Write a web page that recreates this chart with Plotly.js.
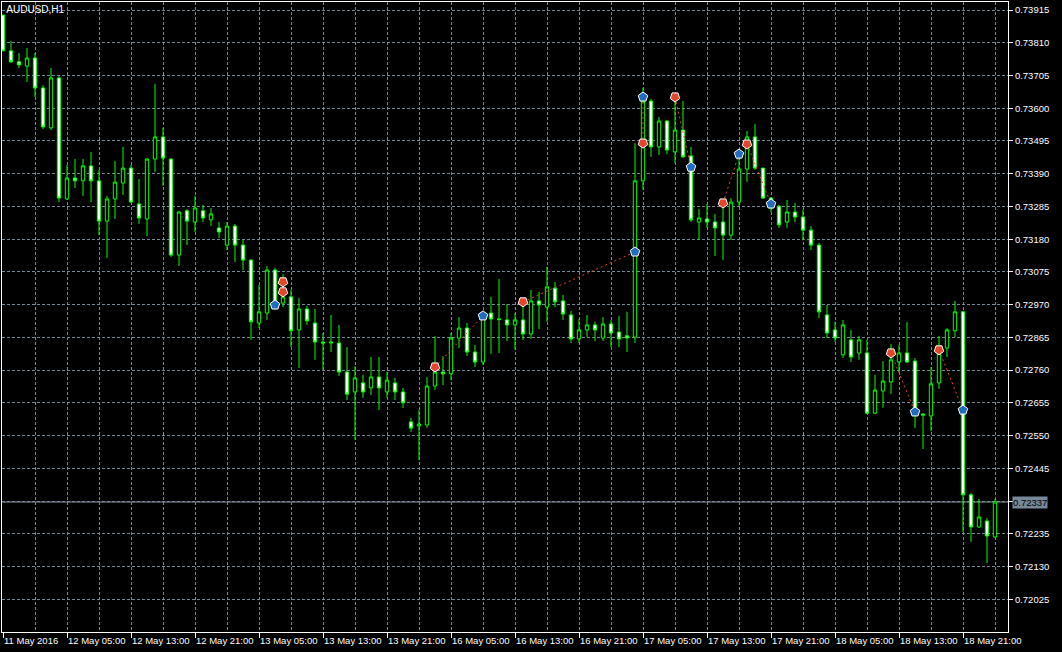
<!DOCTYPE html>
<html>
<head>
<meta charset="utf-8">
<script src="https://cdn.plot.ly/plotly-3.0.1.min.js"></script>
<style>html,body{margin:0;padding:0;background:#000;}#chart{width:1062px;height:652px;}</style>
</head>
<body>
<div id="chart"></div>
<script>
// AUDUSD H1 candles (bar 0 = 11 May 2016 21:00)
const openP = [0.73899,0.73784,0.73749,0.73735,0.73761,0.73665,0.73537,0.73697,0.73309,0.73376,
0.73367,0.73415,0.73367,0.73238,0.73309,0.73360,0.73408,0.73293,0.73245,0.73437,
0.73508,0.73437,0.73129,0.73271,0.73235,0.73271,0.73242,0.73216,0.73161,0.73222,
0.73161,0.73113,0.72911,0.72943,0.73081,0.72975,0.72995,0.72889,0.72956,0.72911,
0.72850,0.72847,0.72847,0.72754,0.72690,0.72719,0.72703,0.72738,0.72690,0.72719,
0.72690,0.72594,0.72581,0.72584,0.72709,0.72754,0.72748,0.72863,0.72895,0.72818,
0.72786,0.72943,0.72924,0.72921,0.72905,0.72921,0.72876,0.72982,0.72962,0.73023,
0.72982,0.72937,0.72860,0.72889,0.72905,0.72863,0.72908,0.72882,0.72870,0.72866,
0.73367,0.73623,0.73476,0.73559,0.73460,0.73530,0.73447,0.73235,0.73245,0.73235,
0.73235,0.73193,0.73299,0.73405,0.73508,0.73408,0.73312,0.73286,0.73235,0.73267,
0.73251,0.73209,0.73161,0.72937,0.72889,0.72809,0.72857,0.72815,0.72815,0.72622,
0.72693,0.72722,0.72786,0.72815,0.72789,0.72619,0.72613,0.72719,0.72831,0.72886,
0.72947,0.72360,0.72257,0.72276,0.72225];
const highP = [0.73899,0.73816,0.73777,0.73793,0.73777,0.73674,0.73729,0.73703,0.73418,0.73437,
0.73437,0.73460,0.73402,0.73319,0.73431,0.73476,0.73418,0.73373,0.73440,0.73678,
0.73537,0.73440,0.73271,0.73277,0.73319,0.73290,0.73280,0.73235,0.73235,0.73229,
0.73177,0.73116,0.73033,0.73094,0.73088,0.73068,0.73017,0.72992,0.72966,0.72956,
0.72879,0.72937,0.72905,0.72834,0.72773,0.72745,0.72802,0.72802,0.72754,0.72735,
0.72703,0.72607,0.72632,0.72738,0.72869,0.72805,0.72879,0.72930,0.72911,0.72841,
0.72934,0.72995,0.73052,0.72972,0.72943,0.72975,0.73017,0.73011,0.73091,0.73043,
0.73001,0.72950,0.72924,0.72937,0.72915,0.72930,0.72921,0.72934,0.72947,0.73488,
0.73665,0.73630,0.73572,0.73562,0.73636,0.73623,0.73476,0.73277,0.73293,0.73261,
0.73283,0.73312,0.73466,0.73527,0.73549,0.73408,0.73315,0.73290,0.73306,0.73296,
0.73274,0.73222,0.73168,0.72969,0.72915,0.72921,0.72889,0.72870,0.72857,0.72745,
0.72789,0.72844,0.72841,0.72915,0.72799,0.72622,0.72770,0.72870,0.72895,0.72982,
0.72950,0.72366,0.72347,0.72286,0.72347];
const lowP = [0.73784,0.73745,0.73729,0.73684,0.73636,0.73533,0.73530,0.73299,0.73306,0.73344,
0.73319,0.73299,0.73193,0.73120,0.73245,0.73322,0.73296,0.73229,0.73190,0.73395,
0.73351,0.73123,0.73094,0.73161,0.73203,0.73235,0.73222,0.73184,0.73145,0.73107,
0.73081,0.72857,0.72895,0.72921,0.72953,0.72962,0.72834,0.72767,0.72905,0.72793,
0.72761,0.72818,0.72741,0.72664,0.72536,0.72671,0.72680,0.72632,0.72671,0.72664,
0.72639,0.72562,0.72472,0.72574,0.72696,0.72712,0.72728,0.72831,0.72805,0.72770,
0.72777,0.72812,0.72815,0.72853,0.72825,0.72857,0.72860,0.72892,0.72915,0.72962,
0.72921,0.72847,0.72847,0.72866,0.72853,0.72853,0.72834,0.72834,0.72818,0.72847,
0.73338,0.73444,0.73450,0.73453,0.73424,0.73440,0.73235,0.73177,0.73216,0.73126,
0.73113,0.73177,0.73286,0.73363,0.73402,0.73309,0.73267,0.73216,0.73216,0.73235,
0.73177,0.73145,0.72927,0.72863,0.72850,0.72799,0.72786,0.72793,0.72619,0.72619,
0.72639,0.72683,0.72754,0.72783,0.72574,0.72507,0.72565,0.72700,0.72802,0.72866,
0.72241,0.72209,0.72254,0.72141,0.72222];
const closeP = [0.73784,0.73749,0.73739,0.73761,0.73665,0.73540,0.73697,0.73312,0.73376,0.73367,
0.73415,0.73367,0.73238,0.73309,0.73363,0.73408,0.73299,0.73248,0.73437,0.73508,
0.73440,0.73129,0.73267,0.73238,0.73280,0.73248,0.73261,0.73203,0.73222,0.73161,
0.73113,0.72915,0.72947,0.73081,0.72972,0.72995,0.72886,0.72956,0.72918,0.72850,
0.72847,0.72850,0.72754,0.72683,0.72735,0.72690,0.72738,0.72703,0.72728,0.72690,
0.72655,0.72574,0.72587,0.72709,0.72754,0.72748,0.72863,0.72895,0.72818,0.72786,
0.72927,0.72924,0.72923,0.72905,0.72921,0.72876,0.72982,0.72969,0.73027,0.72979,
0.72940,0.72860,0.72889,0.72905,0.72889,0.72908,0.72879,0.72860,0.72863,0.73367,
0.73623,0.73476,0.73559,0.73466,0.73530,0.73444,0.73242,0.73248,0.73235,0.73216,
0.73193,0.73299,0.73405,0.73508,0.73408,0.73312,0.73280,0.73226,0.73267,0.73251,
0.73209,0.73161,0.72947,0.72879,0.72863,0.72905,0.72802,0.72857,0.72622,0.72696,
0.72725,0.72793,0.72815,0.72786,0.72626,0.72616,0.72716,0.72825,0.72889,0.72947,
0.72360,0.72257,0.72289,0.72228,0.72337];

// time axis labels (bar index -> label)
const tickBars = [0,8,16,24,32,40,48,56,64,72,80,88,96,104,112,120];
const tickLabels = ["11 May 2016","12 May 05:00","12 May 13:00","12 May 21:00","13 May 05:00","13 May 13:00",
  "13 May 21:00","16 May 05:00","16 May 13:00","16 May 21:00","17 May 05:00","17 May 13:00",
  "17 May 21:00","18 May 05:00","18 May 13:00","18 May 21:00"];
const priceTicks = [0.72025,0.72130,0.72235,0.72340,0.72445,0.72550,0.72655,0.72760,0.72865,0.72970,
  0.73075,0.73180,0.73285,0.73390,0.73495,0.73600,0.73705,0.73810,0.73915];
const priceTickLabels = ["0.72025","0.72130","0.72235","","0.72445","0.72550","0.72655","0.72760","0.72865","0.72970",
  "0.73075","0.73180","0.73285","0.73390","0.73495","0.73600","0.73705","0.73810","0.73915"];
const currentPrice = 0.72337;

// trade arrows
const buyBars = [34,60,79,80,86,92,96,114,120];
const buyPrices = [0.72969,0.72934,0.73139,0.73636,0.73411,0.73453,0.73293,0.72626,0.72632];
const sellBars = [35,35,54,65,80,84,90,93,111,117];
const sellPrices = [0.73043,0.73011,0.72770,0.72979,0.73488,0.73636,0.73296,0.73485,0.72815,0.72825];
// trade connection lines (open -> close)
const linkBars = [54,60,null,65,79,null,80,80,null,84,86,null,90,92,null,93,96,null,111,114,null,117,120];
const linkPrices = [0.72770,0.72934,null,0.72979,0.73139,null,0.73636,0.73488,null,0.73636,0.73411,null,0.73296,0.73453,null,0.73485,0.73293,null,0.72815,0.72626,null,0.72825,0.72632];

const barIdx = openP.map((_, i) => i);
const grid = '#778899';

const traces = [
  {type:'candlestick', x:barIdx, open:openP, high:highP, low:lowP, close:closeP,
   increasing:{line:{color:'#00ff00', width:1}, fillcolor:'#000000'},
   decreasing:{line:{color:'#00ff00', width:1}, fillcolor:'#ffffff'},
   whiskerwidth:0, hoverinfo:'skip'},
  {type:'scatter', mode:'lines', x:linkBars, y:linkPrices, connectgaps:false,
   line:{color:'#e8442a', width:1, dash:'2px,3px'}, hoverinfo:'skip'},
  {type:'scatter', mode:'markers', x:buyBars, y:buyPrices,
   marker:{symbol:'pentagon', size:10, color:'#1f6cc0', line:{color:'#ffffff', width:1}}, hoverinfo:'skip'},
  {type:'scatter', mode:'markers', x:sellBars, y:sellPrices,
   marker:{symbol:'pentagon', angle:180, size:10, color:'#e8442a', line:{color:'#ffffff', width:1}}, hoverinfo:'skip'}
];

const layout = {
  width:1062, height:652,
  paper_bgcolor:'#000000', plot_bgcolor:'#000000',
  margin:{l:2, r:54, t:2, b:20},
  showlegend:false,
  font:{family:'Liberation Sans, Arial, sans-serif', size:9.5, color:'#ffffff'},
  title:{text:'AUDUSD,H1', xref:'container', x:0.006, xanchor:'left', yref:'container', y:0.985, yanchor:'middle',
         font:{size:10, color:'#ffffff', family:'Liberation Sans, Arial, sans-serif'}},
  boxgap:0.4,
  xaxis:{type:'linear', range:[-0.125, 125.625], tickmode:'array', tickvals:tickBars, ticktext:tickLabels,
         ticks:'outside', ticklen:5, tickcolor:'#ffffff', ticklabelposition:'outside right', tickangle:0,
         ticklabeloverflow:'allow',
         showline:true, mirror:true, linecolor:'#ffffff', linewidth:1,
         showgrid:true, gridcolor:grid, griddash:'3px,2px', gridwidth:1, zeroline:false,
         rangeslider:{visible:false}, fixedrange:true,
         minor:{tickmode:'linear', tick0:0, dtick:4, showgrid:true, gridcolor:grid, griddash:'3px,2px', gridwidth:1, ticks:''}},
  yaxis:{side:'right', range:[0.719201, 0.739407], tickmode:'array', tickvals:priceTicks, ticktext:priceTickLabels,
         ticks:'outside', ticklen:4, tickcolor:'#ffffff',
         showline:true, mirror:true, linecolor:'#ffffff', linewidth:1,
         showgrid:true, gridcolor:grid, griddash:'3px,2px', gridwidth:1, zeroline:false, fixedrange:true},
  shapes:[{type:'line', xref:'paper', x0:0, x1:1, yref:'y', y0:currentPrice, y1:currentPrice,
           line:{color:'#8a97a6', width:1}, layer:'below'}],
  annotations:[{xref:'paper', x:1, xanchor:'left', xshift:4, yref:'y', y:currentPrice, yanchor:'middle',
                text:currentPrice.toFixed(5), showarrow:false, bgcolor:'#778899', borderpad:0,
                font:{color:'#000000', size:9.5}}]
};

Plotly.newPlot('chart', traces, layout, {staticPlot:true, displayModeBar:false});
</script>
</body>
</html>
